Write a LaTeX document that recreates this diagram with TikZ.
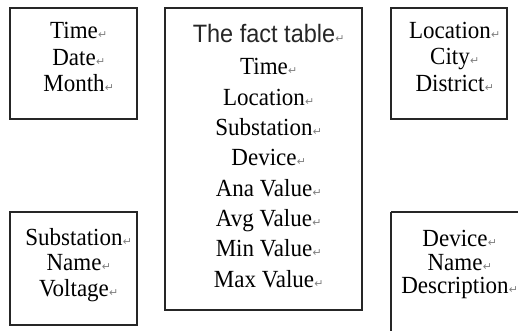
\documentclass[tikz,border=0pt]{standalone}
\usepackage{fontspec}
\setmainfont{Liberation Serif}
\newfontfamily\titlefont{Liberation Sans}
\newfontfamily\markfont{DejaVu Sans}
\usepackage{graphicx}
\newcommand{\pmark}{\rlap{\hspace{0.3pt}\raisebox{0pt}{\markfont\fontsize{11}{11}\selectfont\color{black!50}↵}}}
\newcommand{\rowtxt}[1]{\scalebox{1}[1.07]{#1}\pmark}
\begin{document}
\begin{tikzpicture}[x=1pt,y=-1pt,
  boxstyle/.style={draw=black!85, line width=1.3pt},
  txt/.style={anchor=base, inner sep=0pt, font=\fontsize{23}{27}\selectfont, text=black},
  ttl/.style={anchor=base, inner sep=0pt, font=\titlefont\fontsize{23.5}{27}\selectfont, text=black!85}]
\useasboundingbox (0,0) rectangle (518,331);
% boxes
\draw[boxstyle] (10,8) rectangle (137,119) node[pos=0.5,inner sep=0pt] (btime) {};
\draw[boxstyle] (165,8) rectangle (362,310) node[pos=0.5,inner sep=0pt] (bfact) {};
\draw[boxstyle] (391,8) rectangle (507,119) node[pos=0.5,inner sep=0pt] (bloc) {};
\draw[boxstyle] (10,212) rectangle (137,325) node[pos=0.5,inner sep=0pt] (bsub) {};
\draw[boxstyle] (391,212) -- (530,212);
\draw[boxstyle] (391,212) -- (391,340);
% time box
\node[txt] (ta) at (74,39) {\rowtxt{Time}};
\node[txt] (tb) at (74,65.5) {\rowtxt{Date}};
\node[txt] (tc) at (74,92) {\rowtxt{Month}};
% fact table
\node[ttl] (fa) at (264,43) {\scalebox{1}[1.07]{The fact table}\pmark};
\node[txt] (fb) at (264,75) {\rowtxt{Time}};
\node[txt] (fc) at (264,105.5) {\rowtxt{Location}};
\node[txt] (fd) at (264,135.5) {\rowtxt{Substation}};
\node[txt] (fe) at (264,165.5) {\rowtxt{Device}};
\node[txt] (ff) at (264,196) {\rowtxt{Ana Value}};
\node[txt] (fg) at (264,226) {\rowtxt{Avg Value}};
\node[txt] (fh) at (264,256) {\rowtxt{Min Value}};
\node[txt] (fi) at (264,287) {\rowtxt{Max Value}};
% location box
\node[txt] (la) at (450,39) {\rowtxt{Location}};
\node[txt] (lb) at (450,65) {\rowtxt{City}};
\node[txt] (lc) at (450,91.5) {\rowtxt{District}};
% substation box
\node[txt] (sa) at (74,245) {\rowtxt{Substation}};
\node[txt] (sb) at (74,270.5) {\rowtxt{Name}};
\node[txt] (sc) at (74,296.5) {\rowtxt{Voltage}};
% device box
\node[txt] (da) at (455,246.5) {\rowtxt{Device}};
\node[txt] (db) at (455,270) {\rowtxt{Name}};
\node[txt] (dc) at (455,293) {\rowtxt{Description}};
\end{tikzpicture}
\end{document}
